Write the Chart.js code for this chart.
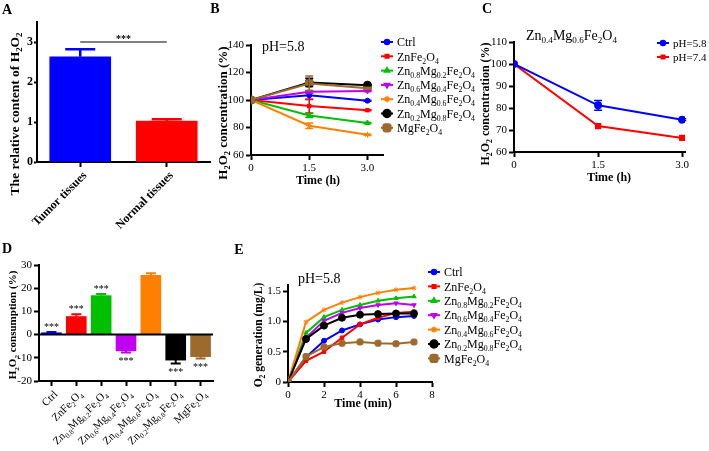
<!DOCTYPE html>
<html>
<head>
<meta charset="utf-8">
<script src="https://cdn.jsdelivr.net/npm/chart.js@4.4.0/dist/chart.umd.min.js"></script>
<style>
  html, body { margin: 0; padding: 0; background: #fff; }
  #wrap { position: relative; width: 709px; height: 451px; overflow: hidden; background: #fff; }
  #wrap canvas { position: absolute; left: 0; top: 0; pointer-events: none; }
</style>
</head>
<body>
<div id="wrap">
  <canvas id="cA" width="709" height="451"></canvas>
  <canvas id="cB" width="709" height="451"></canvas>
  <canvas id="cC" width="709" height="451"></canvas>
  <canvas id="cD" width="709" height="451"></canvas>
  <canvas id="cE" width="709" height="451"></canvas>
</div>
<script>
var SERIF = "'Liberation Serif', 'Times New Roman', serif";
var W = 709, H = 451;

// panel A
var tissueLabels = ['Tumor tissues', 'Normal tissues'];
var tissueValues = [2.63, 1.02];
var tissueErrors = [0.19, 0.05];

// samples shared by B, D, E
var sampleNames = ['Ctrl', 'ZnFe_2O_4', 'Zn_0.8Mg_0.2Fe_2O_4', 'Zn_0.6Mg_0.4Fe_2O_4',
                   'Zn_0.4Mg_0.6Fe_2O_4', 'Zn_0.2Mg_0.8Fe_2O_4', 'MgFe_2O_4'];
var sampleColors = ['#0000ff', '#ff0000', '#00c000', '#c000f0', '#ff8000', '#000000', '#9c6a2c'];
var sampleMarkers = ['circle', 'rect', 'triangle', 'triangle', 'star', 'circle', 'rectRounded'];
var markerRotation = [0, 0, 0, 180, 0, 0, 0];
var markerRadius = [2.5, 2.5, 3, 3, 3, 4, 4.5];

// panel B, H2O2 concentration (%) at pH 5.8
var timeH = [0, 1.5, 3.0];
var bCtrl = [100, 103.4, 99.5];
var bZnFe = [100, 95.6, 92.6];
var bZn08 = [100, 88.7, 83.3];
var bZn06 = [100, 106.0, 106.6];
var bZn04 = [100, 81.3, 74.7];
var bZn02 = [100, 112.8, 110.8];
var bMgFe = [100, 112.0, 108.5];
var bErr15 = [3, 5, 1.5, 1, 2, 3, 5.5];

// panel C
var phLabels = ['pH=5.8', 'pH=7.4'];
var cPh58 = [100, 81.2, 74.7];
var cPh74 = [100, 71.8, 66.4];
var cErr58 = [0, 2.2, 0.4];

// panel D, H2O2 consumption (%)
var consumption = [0.8, 7.8, 16.8, -7.0, 25.6, -11.0, -9.5];
var consumptionErr = [0.3, 1.0, 0.7, 0.7, 0.8, 1.5, 0.8];
var consumptionStars = ['***', '***', '***', '***', '', '***', '***'];

// panel E, O2 generation (mg/L)
var timeMin = [0, 1, 2, 3, 4, 5, 6, 7];
var eCtrl = [0, 0.41, 0.68, 0.85, 0.95, 1.03, 1.07, 1.09];
var eZnFe = [0, 0.35, 0.50, 0.73, 0.95, 1.06, 1.14, 1.16];
var eZn08 = [0, 0.81, 1.07, 1.19, 1.27, 1.34, 1.38, 1.41];
var eZn06 = [0, 0.73, 1.01, 1.14, 1.22, 1.27, 1.30, 1.27];
var eZn04 = [0, 0.99, 1.19, 1.31, 1.40, 1.47, 1.52, 1.55];
var eZn02 = [0, 0.71, 0.93, 1.06, 1.11, 1.12, 1.13, 1.13];
var eMgFe = [0, 0.42, 0.58, 0.64, 0.66, 0.64, 0.63, 0.66];
var eTicks = [0, 0.5, 1.0, 1.5];

// ---- text helpers (chemical subscripts written as _0.8) ----
function richParts(s) {
  var parts = [], buf = '', i = 0;
  while (i < s.length) {
    if (s[i] === '_') {
      if (buf) parts.push({t: buf, sub: false});
      buf = '';
      var j = i + 1, sb = '';
      while (j < s.length && /[0-9.]/.test(s[j])) sb += s[j++];
      parts.push({t: sb, sub: true});
      i = j;
    } else {
      buf += s[i++];
    }
  }
  if (buf) parts.push({t: buf, sub: false});
  return parts;
}
function fnt(size, bold) { return (bold ? 'bold ' : '') + size + 'px ' + SERIF; }
function richWidth(ctx, s, size, bold) {
  var w = 0;
  richParts(s).forEach(function(p) {
    ctx.font = fnt(p.sub ? size * 0.65 : size, bold);
    w += ctx.measureText(p.t).width;
  });
  return w;
}
function drawRich(ctx, s, x, y, size, opt) {
  opt = opt || {};
  var bold = !!opt.bold, align = opt.align || 'left';
  ctx.save();
  ctx.translate(x, y);
  if (opt.rot) ctx.rotate(opt.rot);
  var w = richWidth(ctx, s, size, bold);
  var cx = align === 'center' ? -w / 2 : (align === 'right' ? -w : 0);
  ctx.fillStyle = opt.color || '#000';
  ctx.textAlign = 'left';
  ctx.textBaseline = 'alphabetic';
  richParts(s).forEach(function(p) {
    var sz = p.sub ? size * 0.65 : size;
    ctx.font = fnt(sz, bold);
    ctx.fillText(p.t, cx, size * 0.35 + (p.sub ? size * 0.25 : 0));
    cx += ctx.measureText(p.t).width;
  });
  ctx.restore();
}
function drawLegend(ctx, names, colors, idx, x, y, dy, size) {
  names.forEach(function(n, k) {
    var i = idx[k], yy = y + k * dy;
    ctx.save();
    ctx.strokeStyle = colors[k];
    ctx.fillStyle = colors[k];
    ctx.lineWidth = 2;
    ctx.beginPath(); ctx.moveTo(x, yy); ctx.lineTo(x + 12, yy); ctx.stroke();
    ctx.lineWidth = 1.5;
    Chart.helpers.drawPoint(ctx, {pointStyle: sampleMarkers[i], rotation: markerRotation[i],
      radius: markerRadius[i], borderWidth: 1}, x + 6, yy);
    ctx.restore();
    drawRich(ctx, n, x + 16, yy, size);
  });
}

// ---- chart plumbing ----
function layoutFor(box, yw, xh) {
  return {padding: {left: box.l - yw, top: box.t, right: W - box.r, bottom: H - box.b - xh}};
}
function fitTo(w, h) {
  return function(s) {
    if (w !== null) s.width = w;
    if (h !== null) s.height = h;
    s.paddingLeft = 0; s.paddingRight = 0; s.paddingTop = 0; s.paddingBottom = 0;
  };
}
function axis(o) {
  var a = {
    type: o.type || 'linear',
    offset: !!o.offset,
    border: {color: '#000', width: 2},
    grid: {drawOnChartArea: false, drawTicks: true, tickLength: o.tick || 5, tickWidth: 2, tickColor: '#000', offset: false},
    ticks: {color: '#000', font: {family: SERIF, size: o.size || 11, weight: o.bold ? 'bold' : 'normal'},
            padding: o.pad === undefined ? 2 : o.pad, autoSkip: false, maxRotation: 0, minRotation: 0},
    afterFit: o.fit
  };
  if (o.min !== undefined) a.min = o.min;
  if (o.max !== undefined) a.max = o.max;
  if (o.step) a.ticks.stepSize = o.step;
  if (o.fmt) a.ticks.callback = o.fmt;
  if (o.vals) a.afterBuildTicks = function(s) { s.ticks = o.vals.map(function(v) { return {value: v}; }); };
  return a;
}
function baseOptions(layout, scales) {
  return {
    responsive: false, animation: false, events: [],
    layout: layout, scales: scales,
    plugins: {legend: {display: false}, tooltip: {enabled: false}}
  };
}
var errorBars = {
  id: 'errorBars',
  afterDatasetsDraw: function(chart) {
    var ctx = chart.ctx, ys = chart.scales.y;
    chart.data.datasets.forEach(function(ds, i) {
      if (!ds.errors) return;
      var meta = chart.getDatasetMeta(i);
      ctx.save();
      ctx.lineWidth = ds.errWidth || 1.5;
      meta.data.forEach(function(el, j) {
        var e = ds.errors[j];
        if (!e) return;
        var v = typeof ds.data[j] === 'object' ? ds.data[j].y : ds.data[j];
        var col = Array.isArray(ds.backgroundColor) ? ds.backgroundColor[j] : ds.borderColor;
        ctx.strokeStyle = col;
        var dirs = ds.oneSided ? [v >= 0 ? 1 : -1] : [1, -1];
        dirs.forEach(function(d) {
          var yy = ys.getPixelForValue(v + d * e);
          ctx.beginPath();
          ctx.moveTo(el.x, el.y); ctx.lineTo(el.x, yy);
          ctx.moveTo(el.x - ds.cap, yy); ctx.lineTo(el.x + ds.cap, yy);
          ctx.stroke();
        });
      });
      ctx.restore();
    });
  }
};
function textLayer(fn) {
  return {id: 'textLayer', afterDraw: function(chart) { fn(chart.ctx, chart); }};
}
function lineSet(label, xs, ys, i, errs) {
  return {
    label: label,
    data: xs.map(function(x, k) { return {x: x, y: ys[k]}; }),
    borderColor: sampleColors[i], backgroundColor: sampleColors[i],
    borderWidth: 2, pointStyle: sampleMarkers[i], pointRotation: markerRotation[i],
    pointRadius: markerRadius[i], pointBorderWidth: 1, tension: 0,
    errors: errs, cap: 4
  };
}
var timeFmt = function(v) { return v === 0 ? '0' : v.toFixed(1); };

// ---- A ----
var boxA = {l: 37, r: 210, t: 22, b: 162};
new Chart(document.getElementById('cA'), {
  type: 'bar',
  data: {labels: tissueLabels, datasets: [{
    data: tissueValues, backgroundColor: ['#0000ff', '#ff0000'], barThickness: 61,
    errors: tissueErrors, oneSided: true, cap: 15, errWidth: 2.5
  }]},
  options: baseOptions(layoutFor(boxA, 30, 20), {
    x: axis({type: 'category', offset: true, fmt: function() { return ''; }, fit: fitTo(null, 20)}),
    y: axis({min: 0, max: 3.5, vals: [0, 1, 2, 3], bold: true, size: 12, tick: 3, pad: 1, fit: fitTo(30, null)})
  }),
  plugins: [errorBars, textLayer(function(ctx, ch) {
    var xs = ch.scales.x, ys = ch.scales.y;
    drawRich(ctx, 'A', 7, 9, 14, {bold: true, align: 'center'});
    drawRich(ctx, 'The relative content of H_2O_2', 14, 114, 13.5, {bold: true, align: 'center', rot: -Math.PI / 2});
    tissueLabels.forEach(function(l, i) {
      drawRich(ctx, l, xs.getPixelForValue(i) + 4, ch.chartArea.bottom + 11, 12,
        {bold: true, align: 'right', rot: -Math.PI / 4});
    });
    var yy = ys.getPixelForValue(3.0);
    ctx.save();
    ctx.strokeStyle = '#000'; ctx.lineWidth = 1;
    ctx.beginPath(); ctx.moveTo(xs.getPixelForValue(0), yy); ctx.lineTo(xs.getPixelForValue(1), yy); ctx.stroke();
    ctx.restore();
    drawRich(ctx, '***', (xs.getPixelForValue(0) + xs.getPixelForValue(1)) / 2, yy - 4, 10, {bold: true, align: 'center'});
  })]
});

// ---- B ----
var boxB = {l: 251, r: 383, t: 45, b: 155};
var bSeries = [bCtrl, bZnFe, bZn08, bZn06, bZn04, bZn02, bMgFe];
new Chart(document.getElementById('cB'), {
  type: 'line',
  data: {datasets: bSeries.map(function(s, i) {
    var d = lineSet(sampleNames[i], timeH, s, i, [0, bErr15[i], 0.4]);
    d.order = 6 - i;
    return d;
  })},
  options: baseOptions(layoutFor(boxB, 30, 20), {
    x: axis({min: 0, max: 3.4, vals: [0, 1.5, 3], fmt: timeFmt, fit: fitTo(null, 20)}),
    y: axis({min: 60, max: 140, step: 20, fit: fitTo(30, null)})
  }),
  plugins: [errorBars, textLayer(function(ctx, ch) {
    drawRich(ctx, 'B', 215, 8, 14, {bold: true, align: 'center'});
    drawRich(ctx, 'H_2O_2 concentration (%)', 222, 113, 13, {bold: true, align: 'center', rot: -Math.PI / 2});
    drawRich(ctx, 'Time (h)', 318, 180, 12, {bold: true, align: 'center'});
    drawRich(ctx, 'pH=5.8', 262, 46, 14);
    drawLegend(ctx, sampleNames, sampleColors, [0, 1, 2, 3, 4, 5, 6], 381, 42, 14.3, 12);
  })]
});

// ---- C ----
var boxC = {l: 514, r: 685, t: 42, b: 152};
new Chart(document.getElementById('cC'), {
  type: 'line',
  data: {datasets: [
    {data: timeH.map(function(x, k) { return {x: x, y: cPh58[k]}; }), borderColor: '#0000ff', backgroundColor: '#0000ff',
     borderWidth: 2, pointStyle: 'circle', pointRadius: 3, errors: cErr58, cap: 4},
    {data: timeH.map(function(x, k) { return {x: x, y: cPh74[k]}; }), borderColor: '#ff0000', backgroundColor: '#ff0000',
     borderWidth: 2, pointStyle: 'rect', pointRadius: 3}
  ]},
  options: baseOptions(layoutFor(boxC, 30, 20), {
    x: axis({min: 0, max: 3.05, vals: [0, 1.5, 3], fmt: timeFmt, fit: fitTo(null, 20)}),
    y: axis({min: 60, max: 110, step: 10, fit: fitTo(30, null)})
  }),
  plugins: [errorBars, textLayer(function(ctx, ch) {
    drawRich(ctx, 'C', 487, 8, 14, {bold: true, align: 'center'});
    drawRich(ctx, 'H_2O_2 concentration (%)', 485, 104, 12, {bold: true, align: 'center', rot: -Math.PI / 2});
    drawRich(ctx, 'Time (h)', 609, 177, 12, {bold: true, align: 'center'});
    drawRich(ctx, 'Zn_0.4Mg_0.6Fe_2O_4', 526, 35, 14);
    drawLegend(ctx, phLabels, ['#0000ff', '#ff0000'], [0, 1], 657, 43, 14, 11);
  })]
});

// ---- D ----
var boxD = {l: 39, r: 213, t: 265, b: 381};
new Chart(document.getElementById('cD'), {
  type: 'bar',
  data: {labels: sampleNames, datasets: [{
    data: consumption, backgroundColor: sampleColors, barThickness: 20,
    errors: consumptionErr, oneSided: true, cap: 5, errWidth: 2
  }]},
  options: baseOptions(layoutFor(boxD, 30, 20), {
    x: axis({type: 'category', offset: true, fmt: function() { return ''; }, fit: fitTo(null, 20)}),
    y: axis({min: -20, max: 30, step: 10, fit: fitTo(30, null)})
  }),
  plugins: [errorBars, textLayer(function(ctx, ch) {
    var xs = ch.scales.x, ys = ch.scales.y, y0 = ys.getPixelForValue(0);
    ctx.save();
    ctx.strokeStyle = '#000'; ctx.lineWidth = 2;
    ctx.beginPath(); ctx.moveTo(ch.chartArea.left, y0); ctx.lineTo(ch.chartArea.right, y0); ctx.stroke();
    ctx.restore();
    drawRich(ctx, 'D', 7, 248, 14, {bold: true, align: 'center'});
    drawRich(ctx, 'H_2O_2 consumption (%)', 12, 325, 11, {bold: true, align: 'center', rot: -Math.PI / 2});
    sampleNames.forEach(function(n, i) {
      var x = xs.getPixelForValue(i);
      drawRich(ctx, n, x + 4, ch.chartArea.bottom + 11, 11, {align: 'right', rot: -Math.PI / 4});
      if (consumptionStars[i]) {
        var v = consumption[i], e = consumptionErr[i];
        var yy = v >= 0 ? ys.getPixelForValue(v + e) - 6 : ys.getPixelForValue(v - e) + 8;
        drawRich(ctx, consumptionStars[i], x, yy, 10, {align: 'center'});
      }
    });
  })]
});

// ---- E ----
var boxE = {l: 288, r: 432, t: 285, b: 382};
var eSeries = [eCtrl, eZnFe, eZn08, eZn06, eZn04, eZn02, eMgFe];
new Chart(document.getElementById('cE'), {
  type: 'line',
  data: {datasets: eSeries.map(function(s, i) {
    var d = lineSet(sampleNames[i], timeMin, s, i, null);
    d.pointRadius = i >= 5 ? 3.5 : 2.5;
    d.order = 6 - i;
    return d;
  })},
  options: baseOptions(layoutFor(boxE, 30, 20), {
    x: axis({min: 0, max: 8, step: 2, fit: fitTo(null, 20)}),
    y: axis({min: 0, max: 1.6, vals: eTicks, fmt: function() { return ''; }, fit: fitTo(30, null)})
  }),
  plugins: [textLayer(function(ctx, ch) {
    var ys = ch.scales.y;
    ctx.save();
    ctx.fillStyle = '#000';
    ctx.font = fnt(11, false);
    ctx.textAlign = 'right';
    ctx.textBaseline = 'middle';
    eTicks.forEach(function(v) {
      ctx.fillText(v === 0 ? '0' : v.toFixed(1), ch.chartArea.left - 7, ys.getPixelForValue(v));
    });
    ctx.restore();
    drawRich(ctx, 'E', 239, 249, 14, {bold: true, align: 'center'});
    drawRich(ctx, 'O_2 generation (mg/L)', 258, 335, 11.5, {bold: true, align: 'center', rot: -Math.PI / 2});
    drawRich(ctx, 'Time (min)', 363, 403, 12, {bold: true, align: 'center'});
    drawRich(ctx, 'pH=5.8', 298, 278, 14);
    drawLegend(ctx, sampleNames, sampleColors, [0, 1, 2, 3, 4, 5, 6], 428, 272, 14.4, 12);
  })]
});
</script>
</body>
</html>
